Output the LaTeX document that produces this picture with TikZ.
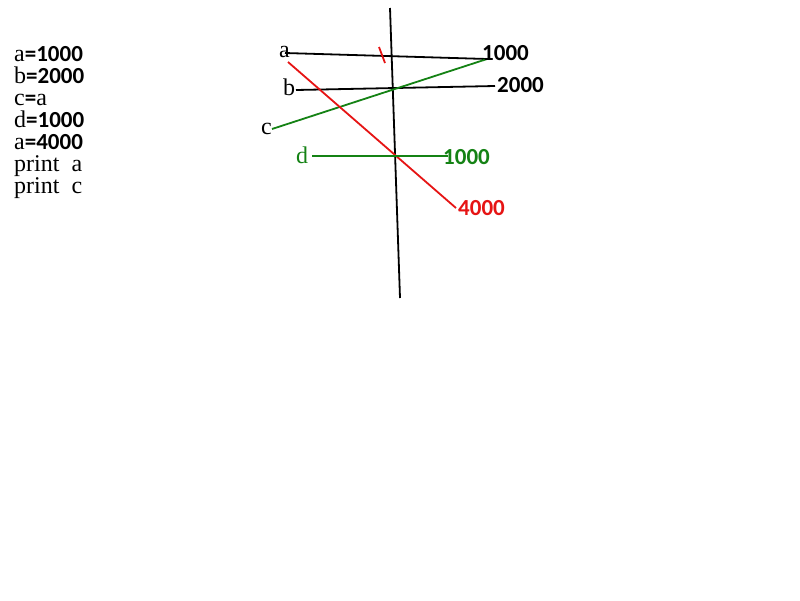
\documentclass[tikz,border=0pt]{standalone}
\usepackage{fontspec}
\setmainfont{Liberation Serif}
\newfontfamily\digitfont{Carlito}
\newcommand\dg[1]{{\digitfont\fontsize{23}{22}\selectfont\bfseries #1}}
\definecolor{myred}{RGB}{230,20,20}
\definecolor{mygreen}{RGB}{20,130,20}
\tikzset{
  lbl/.style={inner sep=0pt, anchor=base west, font=\fontsize{24}{24}\selectfont},
  code/.style={inner sep=0pt, anchor=north west, align=left, font=\fontsize{24}{22}\selectfont},
  ln/.style={line width=1.8pt},
}
\begin{document}
\begin{tikzpicture}[x=1pt,y=-1pt]
\useasboundingbox[fill=white] (0,0) rectangle (800,600);
% code listing
\node[code] (listing) at (14,46.5) {a\dg{=1000}\\ b\dg{=2000}\\ c\dg{=}a\\ d\dg{=1000}\\ a\dg{=4000}\\ print\ \ a\\ print\ \ c};
% coordinates
\coordinate (vt) at (390,8);
\coordinate (vb) at (400,298);
\coordinate (aS) at (285,53);
\coordinate (aE) at (487,59);
\coordinate (bS) at (296,90);
\coordinate (bE) at (495,86);
\coordinate (cS) at (272,129);
\coordinate (rS) at (288,62);
\coordinate (rE) at (456,208);
\coordinate (dS) at (312,156);
\coordinate (dE) at (448,156);
\coordinate (tA) at (379,47);
\coordinate (tB) at (385,63);
% lines
\draw[ln] (vt) -- (vb);
\draw[ln] (aS) -- (aE);
\draw[ln] (bS) -- (bE);
\draw[ln,mygreen] (cS) -- (aE);
\draw[ln,myred] (rS) -- (rE);
\draw[ln,mygreen] (dS) -- (dE);
\draw[ln,myred] (tA) -- (tB);
% labels
\node[lbl] (la) at (279,57) {a};
\node[lbl] (v1) at (482,60) {\dg{1000}};
\node[lbl] (lb) at (283,95) {b};
\node[lbl] (v2) at (497,92) {\dg{2000}};
\node[lbl] (lc) at (261,134) {c};
\node[lbl,text=mygreen] (ld) at (296,163) {d};
\node[lbl,text=mygreen] (v3) at (443,164) {\dg{1000}};
\node[lbl,text=myred] (v4) at (458,215) {\dg{4000}};
\end{tikzpicture}
\end{document}
